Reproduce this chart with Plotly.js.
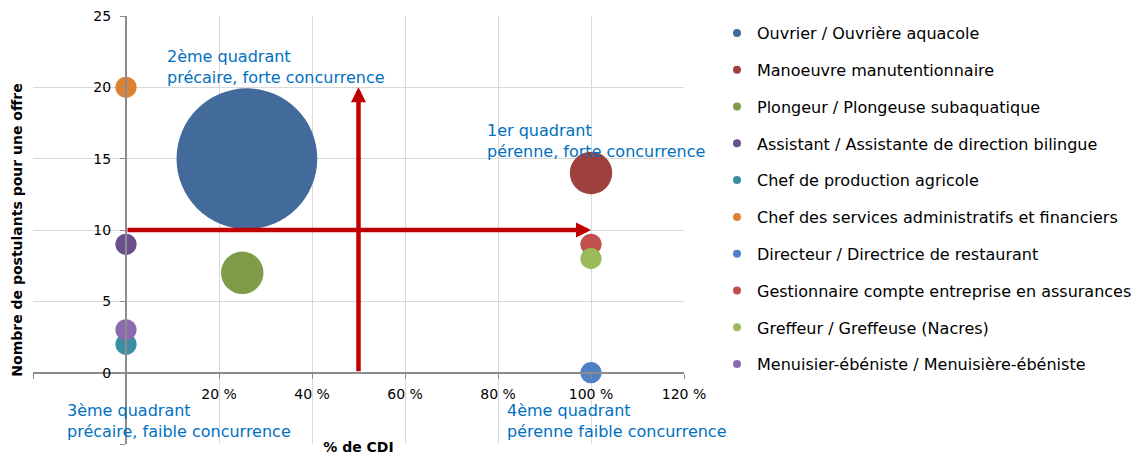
<!DOCTYPE html>
<html>
<head>
<meta charset="utf-8">
<script src="https://cdn.plot.ly/plotly-3.0.1.min.js"></script>
<style>
  html, body { margin: 0; padding: 0; background: #ffffff; }
  #chart { width: 1136px; height: 456px; }
</style>
</head>
<body>
<div id="chart"></div>
<script>
// ---- Data ----
var jobs = [
  "Ouvrier / Ouvrière aquacole",
  "Manoeuvre manutentionnaire",
  "Plongeur / Plongeuse subaquatique",
  "Assistant / Assistante de direction bilingue",
  "Chef de production agricole",
  "Chef des services administratifs et financiers",
  "Directeur / Directrice de restaurant",
  "Gestionnaire compte entreprise en assurances",
  "Greffeur / Greffeuse (Nacres)",
  "Menuisier-ébéniste / Menuisière-ébéniste"
];
var pctCDI = [26, 100, 25, 0, 0, 0, 100, 100, 100, 0];          // % de CDI
var applicantsPerOffer = [15, 14, 7, 9, 2, 20, 0, 9, 8, 3];      // Nombre de postulants pour une offre
var bubbleValue = [44, 4, 4, 1, 1, 1, 1, 1, 1, 1];               // bubble weight
var xTickVals = [-20, 0, 20, 40, 60, 80, 100, 120];
var xTickText = ["", "", "20 %", "40 %", "60 %", "80 %", "100 %", "120 %"];
var yTickVals = [-5, 0, 5, 10, 15, 20, 25];
var yTickText = ["", "0", "5", "10", "15", "20", "25"];
var quadrantLabels = [
  {text: "2ème quadrant<br>précaire, forte concurrence", x: 8.4, y: 21.45},
  {text: "1er quadrant<br>pérenne, forte concurrence", x: 77.2, y: 16.26},
  {text: "3ème quadrant<br>précaire, faible concurrence", x: -13.1, y: -3.41},
  {text: "4ème quadrant<br>pérenne faible concurrence", x: 81.5, y: -3.41}
];
var hArrow = {fromX: 0, fromY: 10, toX: 100, toY: 10};
var vArrow = {fromX: 50, fromY: 0, toX: 50, toY: 20};

// ---- Styles ----
var colors = ["#426A9B", "#9E413E", "#7F9B48", "#6A4F8C", "#3A8FA3",
              "#DD8133", "#4F81C4", "#C0504D", "#9BBB59", "#8A6BAF"];
var FONT = "DejaVu Sans, Verdana, sans-serif";
var AXIS_GREY = "#8c8c8c";
var GRID = "#d9d9d9";
var RED = "#C00000";
var BLUE = "#0070C0";

var traces = [];
// bubble traces
for (var i = 0; i < jobs.length; i++) {
  traces.push({
    type: "scatter",
    mode: "markers",
    x: [pctCDI[i]],
    y: [applicantsPerOffer[i]],
    name: jobs[i],
    legendgroup: "g" + i,
    showlegend: false,
    marker: {
      color: colors[i],
      opacity: 1,
      size: [bubbleValue[i]],
      sizemode: "area",
      sizeref: 1 / 225,
      line: {width: 0}
    },
    hovertemplate: jobs[i] + "<br>%{x} % CDI, %{y} postulants<extra></extra>"
  });
}
// legend entries (small constant markers)
for (var j = 0; j < jobs.length; j++) {
  traces.push({
    type: "scatter",
    mode: "markers",
    x: [null],
    y: [null],
    name: jobs[j],
    legendgroup: "g" + j,
    showlegend: true,
    marker: {color: colors[j], size: 8, opacity: 1, line: {width: 0}},
    hoverinfo: "skip"
  });
}

var annotations = quadrantLabels.map(function (q) {
  return {
    text: q.text, x: q.x, y: q.y, xref: "x", yref: "y",
    xanchor: "left", yanchor: "middle", align: "left",
    showarrow: false,
    font: {family: FONT, size: 16, color: BLUE}
  };
});
[hArrow, vArrow].forEach(function (a) {
  annotations.push({
    text: "", x: a.toX, y: a.toY, ax: a.fromX, ay: a.fromY,
    xref: "x", yref: "y", axref: "x", ayref: "y",
    showarrow: true, arrowhead: 2, arrowwidth: 4.5, arrowsize: 0.667,
    arrowcolor: RED, standoff: 0, startstandoff: 0
  });
});

var layout = {
  width: 1136,
  height: 456,
  margin: {l: 33, r: 452, t: 16, b: 12, pad: 0, autoexpand: false},
  paper_bgcolor: "#ffffff",
  plot_bgcolor: "#ffffff",
  font: {family: FONT, size: 14, color: "#000000"},
  showlegend: true,
  legend: {
    x: 1.0507, xanchor: "left",
    y: 1, yanchor: "top",
    traceorder: "grouped",
    tracegroupgap: 13,
    font: {family: FONT, size: 16, color: "#000000"},
    bgcolor: "rgba(0,0,0,0)",
    borderwidth: 0
  },
  xaxis: {
    range: [-20, 120],
    tickvals: xTickVals,
    ticktext: xTickText,
    showgrid: true, gridcolor: GRID, gridwidth: 1,
    zeroline: false,
    showline: true, linecolor: AXIS_GREY, linewidth: 2,
    ticks: "outside", ticklen: 5, tickcolor: AXIS_GREY, tickwidth: 1,
    anchor: "free", position: 5 / 30,
    ticklabelstandoff: 4,
    tickfont: {family: FONT, size: 14, color: "#000000"},
    automargin: false,
    fixedrange: true,
    title: {text: "% de CDI", standoff: 40, font: {family: FONT, size: 14, color: "#000000", weight: "bold"}}
  },
  yaxis: {
    range: [-5, 25],
    tickvals: yTickVals,
    ticktext: yTickText,
    showgrid: true, gridcolor: GRID, gridwidth: 1,
    zeroline: false,
    showline: true, linecolor: AXIS_GREY, linewidth: 2,
    ticks: "outside", ticklen: 5, tickcolor: AXIS_GREY, tickwidth: 1,
    anchor: "free", position: 20 / 140,
    ticklabelstandoff: 6,
    tickfont: {family: FONT, size: 14, color: "#000000"},
    automargin: false,
    fixedrange: true,
    title: {text: "Nombre de postulants pour une offre", standoff: 66, font: {family: FONT, size: 14, color: "#000000", weight: "bold"}}
  },
  annotations: annotations
};

Plotly.newPlot("chart", traces, layout, {displayModeBar: false, responsive: false});
</script>
</body>
</html>
